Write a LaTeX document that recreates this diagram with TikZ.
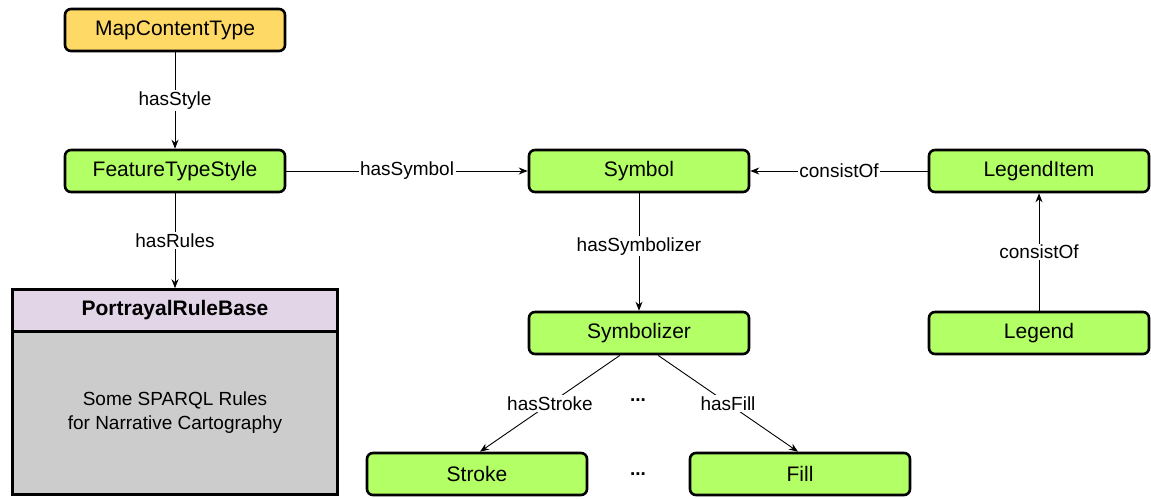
\documentclass[tikz,border=0pt]{standalone}
\usepackage{fontspec}
\setmainfont{Liberation Sans}
\usetikzlibrary{arrows.meta}
\definecolor{orangefill}{HTML}{FFD966}
\definecolor{greenfill}{HTML}{B3FF66}
\definecolor{purplefill}{HTML}{E1D5E7}
\definecolor{grayfill}{HTML}{CCCCCC}
\tikzset{
  box/.style={draw=black, line width=2.6pt, rounded corners=6pt, minimum width=220pt, minimum height=42pt, inner sep=0pt, font=\fontsize{21}{25}\selectfont, fill=greenfill},
  conn/.style={draw=black, line width=0.9pt, -{Stealth[length=9pt,width=7pt]}},
  lbl/.style={fill=white, inner sep=1.5pt, font=\fontsize{19}{23}\selectfont},
}
\begin{document}
\begin{tikzpicture}[x=1pt,y=-1pt]
\useasboundingbox (0,0) rectangle (1151,498);
\node[box, fill=orangefill] (mct) at (175,30) {MapContentType};
\node[box] (fts) at (175,171) {FeatureTypeStyle};
\node[box] (sym) at (639,171) {Symbol};
\node[box] (li) at (1039,171) {LegendItem};
\node[box] (szr) at (639,333) {Symbolizer};
\node[box] (leg) at (1039,333) {Legend};
\node[box] (stroke) at (477,474) {Stroke};
\node[box] (fill) at (800,474) {Fill};
% PortrayalRuleBase
\node[draw=black, line width=2.6pt, fill=grayfill, minimum width=325pt, minimum height=205pt, inner sep=0pt] (prb) at (175,392) {};
\node[draw=black, line width=2.6pt, fill=purplefill, minimum width=325pt, minimum height=42pt, inner sep=0pt, font=\bfseries\fontsize{21}{25}\selectfont, anchor=north] (prbh) at (prb.north) {PortrayalRuleBase};
\node[align=center, font=\fontsize{19}{24}\selectfont] (prbt) at (175,413) {Some SPARQL Rules\\for Narrative Cartography};
% connectors
\draw[conn] (mct) -- node[lbl] {hasStyle} (fts);
\draw[conn] (fts) -- node[lbl] {hasRules} (prbh);
\draw[conn] (fts) -- node[lbl] {hasSymbol} (sym);
\draw[conn] (li) -- node[lbl] {consistOf} (sym);
\draw[conn] (sym) -- node[lbl, pos=0.45] {hasSymbolizer} (szr);
\draw[conn] (leg) -- node[lbl] {consistOf} (li);
\coordinate (sa) at ([xshift=-19pt]szr.south);
\coordinate (sb) at ([xshift=19pt]szr.south);
\coordinate (ta) at ([xshift=3pt]stroke.north);
\coordinate (tb) at ([xshift=-2pt]fill.north);
\draw[conn] (sa) -- node[lbl] {hasStroke} (ta);
\draw[conn] (sb) -- node[lbl] {hasFill} (tb);
\node[font=\bfseries\fontsize{19}{23}\selectfont] (dots1) at (638,400) {...};
\node[font=\bfseries\fontsize{19}{23}\selectfont] (dots2) at (638,474) {...};
\end{tikzpicture}
\end{document}
